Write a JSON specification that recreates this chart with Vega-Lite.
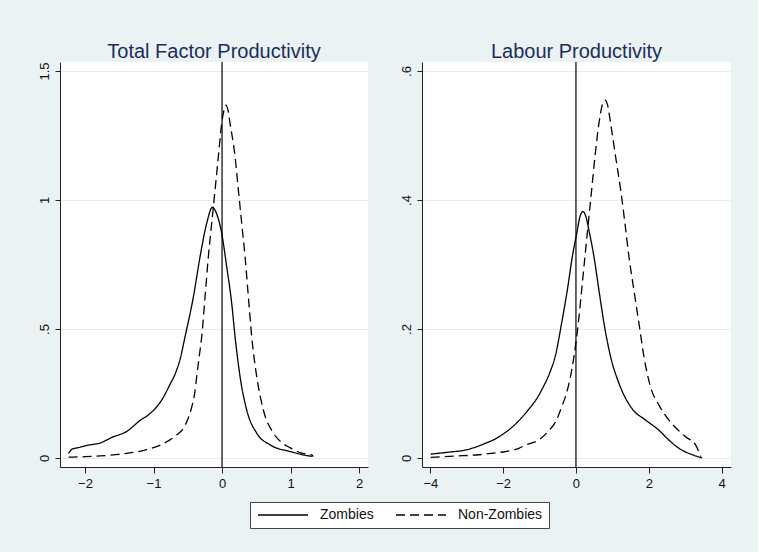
{
  "$schema": "https://vega.github.io/schema/vega-lite/v6.json",
  "background": "#eaf2f3",
  "padding": {"left": 38, "top": 42, "right": 27, "bottom": 25},
  "datasets": {
    "tfp": [
      {"x": -2.24, "y": 0.018, "g": "Zombies"},
      {"x": -2.19, "y": 0.034, "g": "Zombies"},
      {"x": -2.1, "y": 0.04, "g": "Zombies"},
      {"x": -2.0, "y": 0.047, "g": "Zombies"},
      {"x": -1.9, "y": 0.052, "g": "Zombies"},
      {"x": -1.78, "y": 0.058, "g": "Zombies"},
      {"x": -1.68, "y": 0.07, "g": "Zombies"},
      {"x": -1.59, "y": 0.082, "g": "Zombies"},
      {"x": -1.5, "y": 0.09, "g": "Zombies"},
      {"x": -1.39, "y": 0.103, "g": "Zombies"},
      {"x": -1.3, "y": 0.122, "g": "Zombies"},
      {"x": -1.2, "y": 0.145, "g": "Zombies"},
      {"x": -1.1, "y": 0.162, "g": "Zombies"},
      {"x": -1.0, "y": 0.185, "g": "Zombies"},
      {"x": -0.88, "y": 0.225, "g": "Zombies"},
      {"x": -0.76, "y": 0.285, "g": "Zombies"},
      {"x": -0.686, "y": 0.325, "g": "Zombies"},
      {"x": -0.61, "y": 0.385, "g": "Zombies"},
      {"x": -0.54, "y": 0.47, "g": "Zombies"},
      {"x": -0.418, "y": 0.625, "g": "Zombies"},
      {"x": -0.321, "y": 0.78, "g": "Zombies"},
      {"x": -0.224, "y": 0.91, "g": "Zombies"},
      {"x": -0.141, "y": 0.972, "g": "Zombies"},
      {"x": -0.07, "y": 0.94, "g": "Zombies"},
      {"x": -0.005, "y": 0.871, "g": "Zombies"},
      {"x": 0.068, "y": 0.741, "g": "Zombies"},
      {"x": 0.141, "y": 0.599, "g": "Zombies"},
      {"x": 0.19, "y": 0.47, "g": "Zombies"},
      {"x": 0.263, "y": 0.315, "g": "Zombies"},
      {"x": 0.36, "y": 0.186, "g": "Zombies"},
      {"x": 0.506, "y": 0.096, "g": "Zombies"},
      {"x": 0.7, "y": 0.051, "g": "Zombies"},
      {"x": 0.99, "y": 0.025, "g": "Zombies"},
      {"x": 1.15, "y": 0.014, "g": "Zombies"},
      {"x": 1.31, "y": 0.006, "g": "Zombies"},
      {"x": -2.24, "y": 0.003, "g": "Non-Zombies"},
      {"x": -2.0, "y": 0.005, "g": "Non-Zombies"},
      {"x": -1.78, "y": 0.008, "g": "Non-Zombies"},
      {"x": -1.55, "y": 0.013, "g": "Non-Zombies"},
      {"x": -1.39, "y": 0.018, "g": "Non-Zombies"},
      {"x": -1.2, "y": 0.026, "g": "Non-Zombies"},
      {"x": -1.05, "y": 0.036, "g": "Non-Zombies"},
      {"x": -0.9, "y": 0.05, "g": "Non-Zombies"},
      {"x": -0.76, "y": 0.07, "g": "Non-Zombies"},
      {"x": -0.66, "y": 0.09, "g": "Non-Zombies"},
      {"x": -0.565, "y": 0.115, "g": "Non-Zombies"},
      {"x": -0.5, "y": 0.15, "g": "Non-Zombies"},
      {"x": -0.44, "y": 0.2, "g": "Non-Zombies"},
      {"x": -0.4, "y": 0.25, "g": "Non-Zombies"},
      {"x": -0.37, "y": 0.315, "g": "Non-Zombies"},
      {"x": -0.33, "y": 0.4, "g": "Non-Zombies"},
      {"x": -0.297, "y": 0.47, "g": "Non-Zombies"},
      {"x": -0.248, "y": 0.625, "g": "Non-Zombies"},
      {"x": -0.2, "y": 0.78, "g": "Non-Zombies"},
      {"x": -0.151, "y": 0.91, "g": "Non-Zombies"},
      {"x": -0.102, "y": 1.039, "g": "Non-Zombies"},
      {"x": -0.054, "y": 1.168, "g": "Non-Zombies"},
      {"x": -0.005, "y": 1.297, "g": "Non-Zombies"},
      {"x": 0.03, "y": 1.35, "g": "Non-Zombies"},
      {"x": 0.058, "y": 1.368, "g": "Non-Zombies"},
      {"x": 0.085, "y": 1.35, "g": "Non-Zombies"},
      {"x": 0.117, "y": 1.297, "g": "Non-Zombies"},
      {"x": 0.19, "y": 1.168, "g": "Non-Zombies"},
      {"x": 0.238, "y": 1.039, "g": "Non-Zombies"},
      {"x": 0.287, "y": 0.91, "g": "Non-Zombies"},
      {"x": 0.336, "y": 0.78, "g": "Non-Zombies"},
      {"x": 0.384, "y": 0.625, "g": "Non-Zombies"},
      {"x": 0.433, "y": 0.47, "g": "Non-Zombies"},
      {"x": 0.506, "y": 0.315, "g": "Non-Zombies"},
      {"x": 0.603, "y": 0.186, "g": "Non-Zombies"},
      {"x": 0.75, "y": 0.096, "g": "Non-Zombies"},
      {"x": 0.87, "y": 0.06, "g": "Non-Zombies"},
      {"x": 0.99, "y": 0.04, "g": "Non-Zombies"},
      {"x": 1.14, "y": 0.021, "g": "Non-Zombies"},
      {"x": 1.25, "y": 0.014, "g": "Non-Zombies"},
      {"x": 1.31, "y": 0.012, "g": "Non-Zombies"},
      {"x": 1.33, "y": 0.005, "g": "Non-Zombies"}
    ],
    "lp": [
      {"x": -3.99, "y": 0.006, "g": "Zombies"},
      {"x": -3.5, "y": 0.009, "g": "Zombies"},
      {"x": -3.03, "y": 0.0124, "g": "Zombies"},
      {"x": -2.75, "y": 0.017, "g": "Zombies"},
      {"x": -2.48, "y": 0.023, "g": "Zombies"},
      {"x": -2.2, "y": 0.03, "g": "Zombies"},
      {"x": -1.98, "y": 0.038, "g": "Zombies"},
      {"x": -1.75, "y": 0.048, "g": "Zombies"},
      {"x": -1.5, "y": 0.062, "g": "Zombies"},
      {"x": -1.29, "y": 0.076, "g": "Zombies"},
      {"x": -1.1, "y": 0.09, "g": "Zombies"},
      {"x": -0.9, "y": 0.11, "g": "Zombies"},
      {"x": -0.72, "y": 0.132, "g": "Zombies"},
      {"x": -0.559, "y": 0.16, "g": "Zombies"},
      {"x": -0.394, "y": 0.209, "g": "Zombies"},
      {"x": -0.238, "y": 0.26, "g": "Zombies"},
      {"x": -0.1, "y": 0.312, "g": "Zombies"},
      {"x": 0.037, "y": 0.353, "g": "Zombies"},
      {"x": 0.1, "y": 0.372, "g": "Zombies"},
      {"x": 0.192, "y": 0.382, "g": "Zombies"},
      {"x": 0.28, "y": 0.373, "g": "Zombies"},
      {"x": 0.357, "y": 0.353, "g": "Zombies"},
      {"x": 0.495, "y": 0.312, "g": "Zombies"},
      {"x": 0.632, "y": 0.26, "g": "Zombies"},
      {"x": 0.77, "y": 0.209, "g": "Zombies"},
      {"x": 0.952, "y": 0.157, "g": "Zombies"},
      {"x": 1.18, "y": 0.116, "g": "Zombies"},
      {"x": 1.547, "y": 0.076, "g": "Zombies"},
      {"x": 1.91, "y": 0.059, "g": "Zombies"},
      {"x": 2.28, "y": 0.043, "g": "Zombies"},
      {"x": 2.55, "y": 0.028, "g": "Zombies"},
      {"x": 2.83, "y": 0.015, "g": "Zombies"},
      {"x": 3.2, "y": 0.005, "g": "Zombies"},
      {"x": 3.47, "y": 0.0, "g": "Zombies"},
      {"x": -3.99, "y": 0.001, "g": "Non-Zombies"},
      {"x": -3.3, "y": 0.003, "g": "Non-Zombies"},
      {"x": -2.66, "y": 0.005, "g": "Non-Zombies"},
      {"x": -2.2, "y": 0.008, "g": "Non-Zombies"},
      {"x": -1.93, "y": 0.01, "g": "Non-Zombies"},
      {"x": -1.57, "y": 0.015, "g": "Non-Zombies"},
      {"x": -1.38, "y": 0.02, "g": "Non-Zombies"},
      {"x": -1.02, "y": 0.028, "g": "Non-Zombies"},
      {"x": -0.75, "y": 0.042, "g": "Non-Zombies"},
      {"x": -0.559, "y": 0.056, "g": "Non-Zombies"},
      {"x": -0.4, "y": 0.078, "g": "Non-Zombies"},
      {"x": -0.238, "y": 0.105, "g": "Non-Zombies"},
      {"x": -0.12, "y": 0.135, "g": "Non-Zombies"},
      {"x": -0.055, "y": 0.157, "g": "Non-Zombies"},
      {"x": 0.064, "y": 0.209, "g": "Non-Zombies"},
      {"x": 0.156, "y": 0.26, "g": "Non-Zombies"},
      {"x": 0.247, "y": 0.312, "g": "Non-Zombies"},
      {"x": 0.339, "y": 0.364, "g": "Non-Zombies"},
      {"x": 0.43, "y": 0.415, "g": "Non-Zombies"},
      {"x": 0.522, "y": 0.467, "g": "Non-Zombies"},
      {"x": 0.632, "y": 0.519, "g": "Non-Zombies"},
      {"x": 0.72, "y": 0.547, "g": "Non-Zombies"},
      {"x": 0.797, "y": 0.555, "g": "Non-Zombies"},
      {"x": 0.87, "y": 0.547, "g": "Non-Zombies"},
      {"x": 0.952, "y": 0.519, "g": "Non-Zombies"},
      {"x": 1.09, "y": 0.467, "g": "Non-Zombies"},
      {"x": 1.23, "y": 0.415, "g": "Non-Zombies"},
      {"x": 1.346, "y": 0.364, "g": "Non-Zombies"},
      {"x": 1.456, "y": 0.312, "g": "Non-Zombies"},
      {"x": 1.593, "y": 0.26, "g": "Non-Zombies"},
      {"x": 1.73, "y": 0.209, "g": "Non-Zombies"},
      {"x": 1.868, "y": 0.157, "g": "Non-Zombies"},
      {"x": 2.05, "y": 0.11, "g": "Non-Zombies"},
      {"x": 2.28, "y": 0.082, "g": "Non-Zombies"},
      {"x": 2.55, "y": 0.059, "g": "Non-Zombies"},
      {"x": 3.01, "y": 0.033, "g": "Non-Zombies"},
      {"x": 3.29, "y": 0.02, "g": "Non-Zombies"},
      {"x": 3.43, "y": 0.002, "g": "Non-Zombies"}
    ]
  },
  "spacing": 32,
  "hconcat": [
    {
      "title": "Total Factor Productivity",
      "width": 308,
      "height": 405,
      "layer": [
        {
          "data": {"name": "tfp"},
          "mark": {"type": "line", "color": "black", "strokeWidth": 1.3, "interpolate": "monotone"},
          "encoding": {
            "x": {"field": "x", "type": "quantitative", "title": null,
                  "scale": {"domain": [-2.365, 2.13], "nice": false, "zero": false},
                  "axis": {"values": [-2, -1, 0, 1, 2], "format": "d"}},
            "y": {"field": "y", "type": "quantitative", "title": null,
                  "scale": {"domain": [-0.035, 1.535], "nice": false, "zero": false},
                  "axis": {"values": [0, 0.5, 1, 1.5], "labelExpr": "replace(format(datum.value, '~g'), '0.', '.')"}},
            "strokeDash": {"field": "g", "type": "nominal",
                  "scale": {"domain": ["Zombies", "Non-Zombies"], "range": [[1, 0], [9, 5]]},
                  "legend": {"orient": "none", "legendX": 190, "legendY": 440, "direction": "horizontal", "title": null,
                             "fillColor": "white", "strokeColor": "#444", "padding": 6,
                             "symbolType": "M-1,0H9", "symbolSize": 100, "symbolStrokeWidth": 1.3, "symbolStrokeColor": "black",
                             "labelFontSize": 14, "labelFont": "Liberation Sans", "labelColor": "#111",
                             "columnPadding": 19, "labelOffset": 50}}
          }
        },
        {
          "data": {"values": [{"x": 0}]},
          "mark": {"type": "rule", "color": "black", "strokeWidth": 1.2},
          "encoding": {"x": {"field": "x", "type": "quantitative"}}
        }
      ]
    },
    {
      "title": "Labour Productivity",
      "width": 309,
      "height": 405,
      "layer": [
        {
          "data": {"name": "lp"},
          "mark": {"type": "line", "color": "black", "strokeWidth": 1.3, "interpolate": "monotone"},
          "encoding": {
            "x": {"field": "x", "type": "quantitative", "title": null,
                  "scale": {"domain": [-4.23, 4.26], "nice": false, "zero": false},
                  "axis": {"values": [-4, -2, 0, 2, 4], "format": "d"}},
            "y": {"field": "y", "type": "quantitative", "title": null,
                  "scale": {"domain": [-0.014, 0.614], "nice": false, "zero": false},
                  "axis": {"values": [0, 0.2, 0.4, 0.6], "labelExpr": "replace(format(datum.value, '~g'), '0.', '.')"}},
            "strokeDash": {"field": "g", "type": "nominal",
                  "scale": {"domain": ["Zombies", "Non-Zombies"], "range": [[1, 0], [9, 5]]}}
          }
        },
        {
          "data": {"values": [{"x": 0}]},
          "mark": {"type": "rule", "color": "black", "strokeWidth": 1.2},
          "encoding": {"x": {"field": "x", "type": "quantitative"}}
        }
      ]
    }
  ],
  "resolve": {"scale": {"strokeDash": "shared"}, "legend": {"strokeDash": "shared"}},
  "config": {
    "font": "Liberation Sans",
    "view": {"stroke": null, "fill": "white"},
    "title": {"fontSize": 20, "font": "Liberation Sans", "fontWeight": "normal", "color": "#1b2d5c", "offset": -1, "anchor": "middle"},
    "axis": {"domainColor": "#222", "tickColor": "#222", "labelColor": "#111", "labelFont": "Liberation Sans",
             "labelFontSize": 13, "gridColor": "#e4eef0", "tickSize": 5, "domainWidth": 1, "tickWidth": 1},
    "axisX": {"grid": false, "labelPadding": 4, "tickSize": 6, "labelFlush": false},
    "axisY": {"grid": true, "labelAngle": -90, "labelAlign": "center", "labelBaseline": "bottom", "labelPadding": 4}
  }
}
